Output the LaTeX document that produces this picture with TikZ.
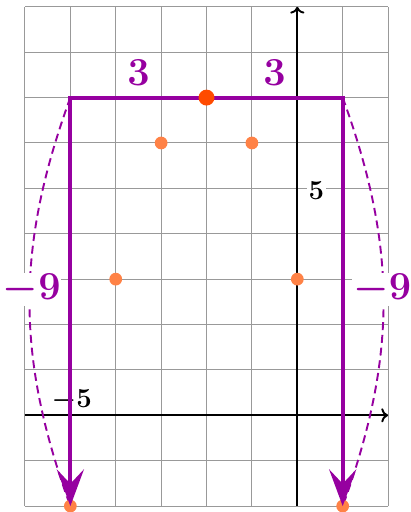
\documentclass[tikz,border=0pt]{standalone}
\usetikzlibrary{arrows.meta}
\definecolor{plum}{RGB}{150,0,160}
\definecolor{hotdot}{RGB}{255,75,0}
\definecolor{softdot}{RGB}{255,130,70}
\begin{document}
\begin{tikzpicture}[every node/.style={fill=white, inner sep=1pt},
    dot/.style={circle, fill=softdot, inner sep=0pt, minimum size=8pt},
    tick/.style={font=\LARGE\boldmath},
    big/.style={font=\Huge\boldmath, text=plum}]
  \useasboundingbox (-6.55,-2.13) rectangle (2.5,9.15);
  \draw[gray!80, line width=0.6pt] (-6,-2) grid (2,9);
  \draw[->, line width=1.2pt] (-6,0) -- (2,0);
  \draw[->, line width=1.2pt] (0,-2) -- (0,9);
  \node[tick] (five) at (0.42,4.95) {$5$};
  \node[tick] (mfive) at (-4.97,0.33) {$-5$};
  % corners of the path
  \coordinate (tl) at (-5,7);
  \coordinate (tr) at (1,7);
  \coordinate (bl) at (-5,-2);
  \coordinate (br) at (1,-2);
  \draw[plum, line width=1.2pt, dash pattern=on 5pt off 3pt] (tl) to[bend right=20] (bl);
  \draw[plum, line width=1.2pt, dash pattern=on 5pt off 3pt] (tr) to[bend left=20] (br);
  \node[big, inner sep=0.5pt] (nl) at (-5.85,2.77) {$-9$};
  \node[big, inner sep=0.5pt] (nr) at (1.87,2.77) {$-9$};
  \node[big, fill=none] (ta) at (-3.5,7.55) {$3$};
  \node[big, fill=none] (tb) at (-0.5,7.55) {$3$};
  \foreach \i/\p in {1/{-3,6},2/{-1,6},3/{-4,3},4/{0,3},5/{-5,-2},6/{1,-2}} {
    \node[dot] (d\i) at (\p) {};
  }
  \draw[plum, line width=2.4pt, line join=miter,
    {Stealth[length=23pt, width=17pt, inset=9pt]}-{Stealth[length=23pt, width=17pt, inset=9pt]}]
    (bl) -- (tl) -- (tr) -- (br);
  \node[dot, fill=hotdot, minimum size=10pt] (top) at (-2,7) {};
\end{tikzpicture}
\end{document}
